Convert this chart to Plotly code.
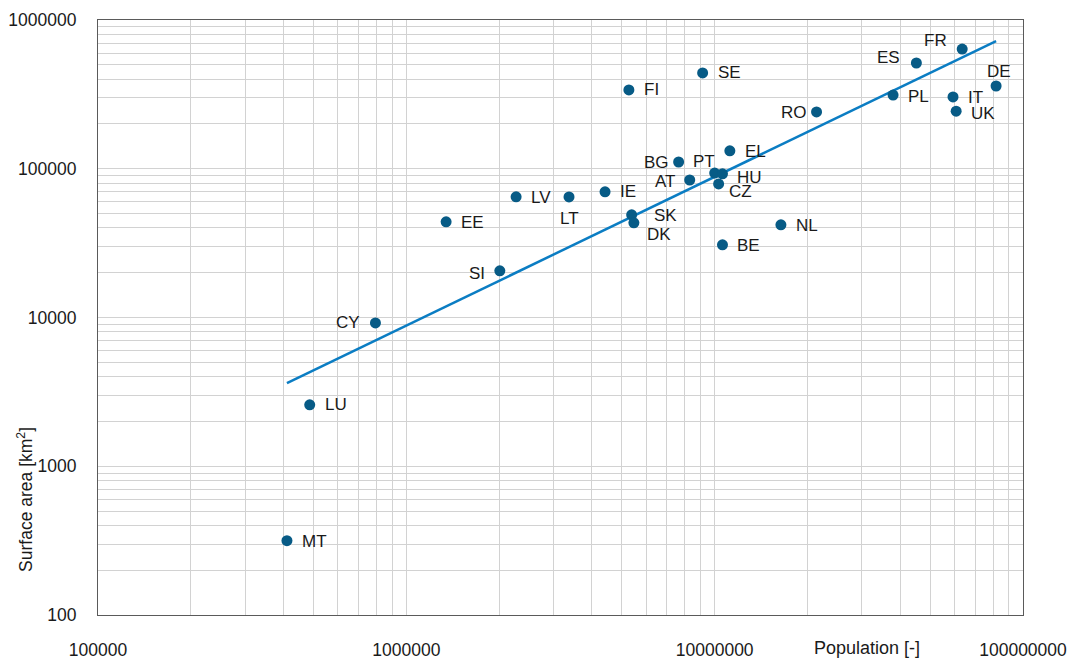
import numpy as np
import plotly.graph_objects as go

countries = ["MT", "LU", "CY", "EE", "SI", "LV", "LT", "IE", "FI", "SK", "DK", "SE",
             "BG", "AT", "PT", "HU", "CZ", "EL", "BE", "NL", "RO", "PL", "ES", "FR",
             "IT", "UK", "DE"]
population = [410000, 486000, 794000, 1346000, 2010000, 2270000, 3370000, 4410000,
              5270000, 5380000, 5470000, 9140000, 7640000, 8300000, 10000000, 10600000,
              10300000, 11200000, 10600000, 16400000, 21400000, 37900000, 45100000,
              63500000, 59300000, 60700000, 81800000]
surface_area = [316, 2590, 9200, 44000, 20600, 64800, 64600, 70000, 339000, 49000,
                43300, 441000, 111000, 84000, 93500, 92500, 79000, 132000, 30800, 42000,
                241000, 313000, 514000, 638000, 304000, 244000, 360000]

# power trendline  y = a * x^b  (as drawn in the reference)
trend_a = 0.00883
trend_b = 1.0

x_ticks = [1e5, 1e6, 1e7, 1e8]
y_ticks = [1e2, 1e3, 1e4, 1e5, 1e6]

# label placement (pixel offsets from the point, anchor)
label_pos = {
    "MT": (13, -1, "left"), "LU": (13, 0, "left"),
    "CY": (-13, 0, "right"), "EE": (13, -1, "left"),
    "SI": (-13, -3, "right"), "LV": (13, -1, "left"),
    "LT": (0, -22, "center"), "IE": (13, 0, "left"),
    "FI": (13, 0, "left"), "SK": (20, -1, "left"),
    "DK": (11, -12, "left"), "SE": (13, 0, "left"),
    "BG": (-8, 0, "right"), "AT": (-13, -1, "right"),
    "PT": (-11, 12, "center"), "HU": (13, -4, "left"),
    "CZ": (8, -8, "left"), "EL": (13, -1, "left"),
    "BE": (13, -1, "left"), "NL": (13, -1, "left"),
    "RO": (-8, -1, "right"), "PL": (13, -1, "left"),
    "ES": (-14, 5, "right"), "FR": (-13, 9, "right"),
    "IT": (13, -1, "left"), "UK": (13, -2, "left"),
    "DE": (3, 15, "center"),
}

FONT = "Liberation Sans, Arial, sans-serif"
DOT = "#075b86"
TREND = "#0b7dc3"
TXT = "#1a1a1a"

tx = np.array([min(population), max(population)], dtype=float)
ty = trend_a * tx ** trend_b

fig = go.Figure()
fig.add_trace(go.Scatter(x=tx, y=ty, mode="lines",
                         line=dict(color=TREND, width=2.5), hoverinfo="skip",
                         showlegend=False))
fig.add_trace(go.Scatter(x=population, y=surface_area, mode="markers",
                         marker=dict(color=DOT, size=11), text=countries,
                         showlegend=False))

for c, px_, ay_ in zip(countries, population, surface_area):
    dx, dy, xa = label_pos[c]
    fig.add_annotation(x=np.log10(px_), y=np.log10(ay_), text=c, showarrow=False,
                       xanchor=xa, yanchor="middle", xshift=dx, yshift=dy,
                       font=dict(family=FONT, size=17, color=TXT))

grid = "#d2d2d2"
axis_common = dict(type="log", showline=True, mirror=True, linecolor="#5a5a5a",
                   linewidth=1, showgrid=True, gridcolor=grid, gridwidth=1,
                   zeroline=False, ticks="", tickformat="d", automargin=False,
                   tickfont=dict(family=FONT, size=17.5, color=TXT),
                   minor=dict(showgrid=True, gridcolor=grid, gridwidth=1, dtick="D1"))

fig.update_xaxes(**axis_common, range=[5, 8], tickvals=x_ticks, ticklabelstandoff=19)
fig.update_yaxes(**axis_common, range=[2, 6], tickvals=y_ticks, ticklabelstandoff=17)

fig.add_annotation(xref="paper", yref="paper", x=0.831, y=-0.056, text="Population [-]",
                   showarrow=False, xanchor="center", yanchor="middle",
                   font=dict(family=FONT, size=18, color=TXT))
fig.add_annotation(xref="paper", yref="paper", x=-0.079, y=0.195,
                   text="Surface area [km<sup>2</sup>]", textangle=-90,
                   showarrow=False, xanchor="center", yanchor="middle",
                   font=dict(family=FONT, size=17.5, color=TXT))

fig.update_layout(width=1070, height=659, margin=dict(l=98, r=47, t=20, b=44),
                  plot_bgcolor="white", paper_bgcolor="white",
                  font=dict(family=FONT))

fig.write_html("out.html", config={"displayModeBar": False},
               post_script="document.body.style.margin='0';"
                           "document.body.style.overflow='hidden';")
